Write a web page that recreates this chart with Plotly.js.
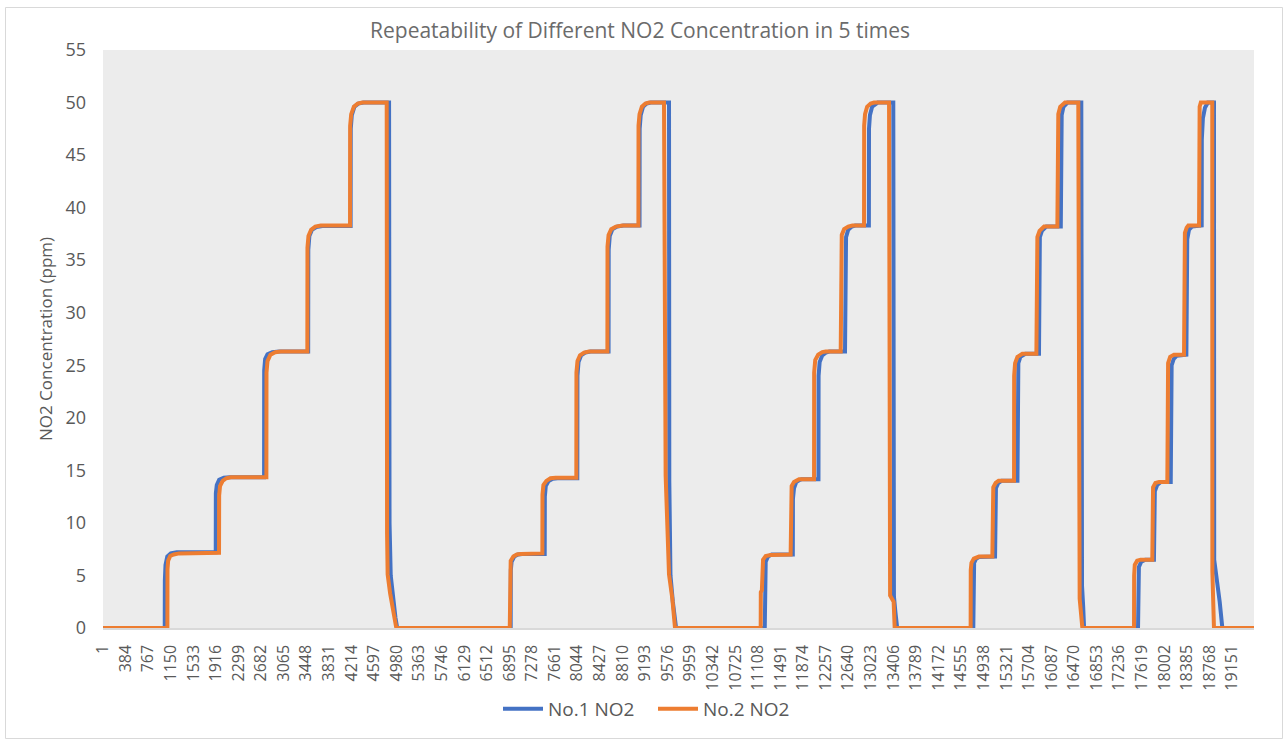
<!DOCTYPE html>
<html>
<head>
<meta charset="utf-8">
<script src="https://cdn.plot.ly/plotly-3.0.1.min.js"></script>
<style>
  html, body { margin: 0; padding: 0; background: #ffffff; }
  #chart { width: 1288px; height: 741px; }
</style>
</head>
<body>
<div id="chart"></div>
<script>
// Sample index values (x) and NO2 concentrations in ppm (y) at the breakpoints of each curve.
const no1X = [
  1, 1047, 1049, 1060, 1090, 1150, 1250, 1912,
  1914, 1930, 1970, 2050, 2150, 2732,
  2734, 2750, 2790, 2870, 2990, 3480,
  3482, 3500, 3545, 3620, 3720, 4200,
  4202, 4220, 4265, 4330, 4420, 4852,
  4856, 4860, 4880, 4920, 4960, 4990,
  6915, 6917, 6930, 6975, 7040, 7110, 7492,
  7494, 7510, 7560, 7630, 7710, 8045,
  8047, 8065, 8110, 8180, 8270, 8575,
  8577, 8595, 8640, 8720, 8830, 9100,
  9102, 9120, 9160, 9220, 9290, 9600,
  9605, 9625, 9665, 9700, 9720,
  11224, 11226, 11240, 11280, 11340, 11700,
  11702, 11720, 11760, 11820, 11850, 12135,
  12137, 12155, 12200, 12260, 12320, 12585,
  12587, 12603, 12640, 12700, 12760, 12990,
  12992, 13008, 13045, 13100, 13140, 13404,
  13408, 13415, 13440, 13470,
  14761, 14763, 14775, 14810, 14860, 15130,
  15132, 15145, 15185, 15240, 15510,
  15512, 15525, 15560, 15610, 15645, 15875,
  15877, 15890, 15925, 15975, 16000, 16245,
  16247, 16260, 16290, 16330, 16360, 16593,
  16597, 16605, 16625, 16640,
  17555, 17557, 17570, 17610, 17680, 17825,
  17827, 17840, 17880, 17940, 18110,
  18112, 18125, 18160, 18210, 18375,
  18377, 18390, 18420, 18470, 18635,
  18637, 18655, 18690, 18740, 18843,
  18847, 18900, 18940, 18985, 19522
];
const no1Y = [
  0, 0, 4.5, 6.0, 6.8, 7.1, 7.2, 7.2,
  12.8, 13.6, 14.1, 14.3, 14.35, 14.35,
  24.5, 25.6, 26.05, 26.25, 26.3, 26.3,
  36.0, 37.3, 37.9, 38.15, 38.25, 38.25,
  47.5, 48.8, 49.6, 49.9, 50, 50,
  30, 10, 5, 2.5, 1.0, 0,
  0, 5.5, 6.3, 6.8, 7.0, 7.05, 7.05,
  12.5, 13.5, 14.0, 14.2, 14.25, 14.25,
  24.0, 25.3, 25.95, 26.2, 26.3, 26.3,
  36.0, 37.3, 37.95, 38.2, 38.3, 38.3,
  47.5, 48.8, 49.6, 49.9, 50, 50,
  14, 5, 2.5, 1.0, 0,
  0, 5.5, 6.3, 6.8, 7.0, 7.0,
  12.3, 13.3, 13.9, 14.1, 14.15, 14.15,
  24.0, 25.3, 25.95, 26.2, 26.3, 26.3,
  36.0, 37.2, 37.9, 38.2, 38.3, 38.3,
  47.5, 48.8, 49.6, 49.9, 50, 50,
  12, 3, 1.5, 0,
  0, 5.5, 6.2, 6.6, 6.75, 6.8,
  12.3, 13.3, 13.8, 14.0, 14.0,
  24.0, 25.2, 25.8, 26.05, 26.1, 26.1,
  36.0, 37.2, 37.8, 38.1, 38.2, 38.2,
  47.5, 48.8, 49.6, 49.9, 50, 50,
  10, 4, 2.0, 0,
  0, 4.5, 5.8, 6.3, 6.5, 6.5,
  12.0, 13.0, 13.6, 13.9, 13.9,
  23.5, 25.0, 25.6, 25.9, 26.0,
  35.5, 37.0, 37.9, 38.2, 38.3,
  46.5, 48.5, 49.5, 50, 50,
  6.5, 4.5, 2.5, 0, 0
];
const no2X = [
  1, 1092, 1094, 1105, 1140, 1200, 1290, 1968,
  1970, 1985, 2030, 2090, 2167, 2771,
  2773, 2790, 2840, 2920, 3015, 3466,
  3468, 3485, 3530, 3600, 3693, 4190,
  4192, 4210, 4255, 4320, 4399, 4812,
  4818, 4828, 4870, 4905, 4935, 4975,
  6899, 6901, 6915, 6960, 7020, 7085, 7452,
  7454, 7470, 7520, 7590, 7678, 8028,
  8030, 8048, 8090, 8160, 8244, 8555,
  8557, 8575, 8620, 8700, 8809, 9081,
  9083, 9100, 9140, 9200, 9261, 9515,
  9543, 9600, 9656, 9702,
  11155, 11157, 11175, 11178, 11195, 11240, 11323, 11663,
  11665, 11680, 11720, 11770, 11805, 12060,
  12062, 12080, 12130, 12200, 12258, 12512,
  12514, 12530, 12570, 12640, 12710, 12908,
  12910, 12925, 12960, 13020, 13078, 13332,
  13350, 13410, 13428,
  14716, 14718, 14730, 14770, 14820, 14858, 15084,
  15086, 15100, 15140, 15190, 15226, 15452,
  15454, 15470, 15510, 15560, 15593, 15831,
  15833, 15848, 15885, 15930, 15961, 16187,
  16189, 16203, 16235, 16280, 16316, 16542,
  16565, 16611,
  17487, 17489, 17500, 17540, 17600, 17797,
  17799, 17810, 17850, 17911, 18052,
  18054, 18065, 18100, 18165, 18335,
  18337, 18350, 18380, 18408, 18590,
  18592, 18600, 18620, 18814,
  18816, 18843, 19522
];
const no2Y = [
  0, 0, 5.6, 6.4, 6.85, 7.0, 7.1, 7.15,
  12.6, 13.5, 14.0, 14.25, 14.35, 14.35,
  24.3, 25.4, 26.0, 26.25, 26.3, 26.3,
  36.2, 37.3, 37.9, 38.2, 38.3, 38.3,
  47.8, 48.9, 49.6, 49.9, 50, 50,
  9.0, 5.1, 3.3, 2.3, 1.6, 0,
  0, 5.8, 6.4, 6.8, 7.0, 7.05, 7.1,
  12.7, 13.6, 14.0, 14.25, 14.3, 14.3,
  24.3, 25.4, 25.95, 26.2, 26.3, 26.3,
  36.3, 37.4, 37.95, 38.2, 38.3, 38.3,
  47.8, 48.9, 49.6, 49.9, 50, 50,
  14.5, 5.1, 2.8, 0,
  0, 3.4, 3.6, 5.8, 6.5, 6.85, 6.95, 7.0,
  12.6, 13.5, 13.9, 14.1, 14.15, 14.15,
  24.3, 25.5, 26.0, 26.25, 26.3, 26.3,
  36.3, 37.4, 37.95, 38.2, 38.3, 38.3,
  47.8, 48.9, 49.6, 49.9, 50, 50,
  3.1, 2.5, 0,
  0, 5.5, 6.2, 6.6, 6.75, 6.8, 6.8,
  12.5, 13.4, 13.8, 14.0, 14.0, 14.0,
  24.0, 25.2, 25.8, 26.05, 26.1, 26.1,
  36.0, 37.2, 37.8, 38.1, 38.2, 38.2,
  47.8, 48.9, 49.6, 49.9, 50, 50,
  2.8, 0,
  0, 5.0, 6.0, 6.4, 6.5, 6.5,
  12.5, 13.4, 13.8, 13.9, 13.9,
  24.0, 25.2, 25.8, 26.0, 26.0,
  36.5, 37.6, 38.1, 38.3, 38.3,
  48.5, 49.6, 50, 50,
  5.4, 0, 0
];
// Category tick labels shown on the x axis
const xTickLabels = [
  1, 384, 767, 1150, 1533, 1916, 2299, 2682, 3065, 3448, 3831, 4214, 4597, 4980,
  5363, 5746, 6129, 6512, 6895, 7278, 7661, 8044, 8427, 8810, 9193, 9576, 9959,
  10342, 10725, 11108, 11491, 11874, 12257, 12640, 13023, 13406, 13789, 14172,
  14555, 14938, 15321, 15704, 16087, 16470, 16853, 17236, 17619, 18002, 18385,
  18768, 19151
];
const yTicks = [0, 5, 10, 15, 20, 25, 30, 35, 40, 45, 50, 55];
const seriesNames = ["No.1 NO2", "No.2 NO2"];
const titleText = "Repeatability of Different NO2 Concentration in 5 times";
const yTitleText = "NO2 Concentration (ppm)";

const FONT = '"Open Sans", "Liberation Sans", sans-serif';
const GREY = '#595959';

const traces = [
  { x: no1X, y: no1Y, name: seriesNames[0], type: 'scatter', mode: 'lines',
    line: { color: '#4472C4', width: 4 } },
  { x: no2X, y: no2Y, name: seriesNames[1], type: 'scatter', mode: 'lines',
    line: { color: '#ED7D31', width: 4 } }
];

const L = 103, R = 1254, T = 50, B = 628, W = 1288, H = 741;
const pw = R - L, ph = B - T;

const layout = {
  width: W, height: H,
  margin: { l: L, r: W - R, t: T, b: H - B, pad: 0 },
  paper_bgcolor: '#ffffff',
  plot_bgcolor: '#ececec',
  font: { family: FONT, color: GREY },
  showlegend: true,
  title: {
    text: titleText,
    font: { family: FONT, size: 21, color: '#6b6b6b' },
    x: 640 / W, xref: 'container', xanchor: 'center',
    y: 1 - 31 / H, yref: 'container', yanchor: 'middle'
  },
  xaxis: {
    type: 'linear',
    range: [0, 19522],
    tickmode: 'array',
    tickvals: xTickLabels,
    ticktext: xTickLabels.map(String),
    tickangle: -90,
    tickfont: { family: FONT, size: 16, color: GREY },
    ticks: '',
    ticklabelstandoff: 9,
    showgrid: false,
    zeroline: false,
    showline: true,
    linecolor: '#d9d9d9',
    linewidth: 1.5,
    automargin: false
  },
  yaxis: {
    range: [0, 55],
    tickmode: 'array',
    tickvals: yTicks,
    tickfont: { family: FONT, size: 18, color: GREY },
    ticks: '',
    ticklabelstandoff: 16,
    showgrid: false,
    zeroline: false,
    showline: false,
    automargin: false,
    title: { text: yTitleText, font: { family: FONT, size: 17, color: GREY }, standoff: 8 }
  },
  legend: {
    orientation: 'h',
    x: 653 / W, xref: 'container', xanchor: 'center',
    y: 1 - 709 / H, yref: 'container', yanchor: 'middle',
    font: { family: FONT, size: 19, color: GREY },
    bgcolor: 'rgba(0,0,0,0)',
    traceorder: 'normal',
    itemwidth: 40,
    entrywidth: 100,
    entrywidthmode: 'pixels'
  },
  shapes: [{
    type: 'rect', xref: 'paper', yref: 'paper', layer: 'above',
    x0: (5.5 - L) / pw, x1: (1282.5 - L) / pw,
    y0: (B - 738.5) / ph, y1: (B - 7.5) / ph,
    line: { color: '#d9d9d9', width: 1 }, fillcolor: 'rgba(0,0,0,0)'
  }]
};

Plotly.newPlot('chart', traces, layout, { staticPlot: true, displayModeBar: false });
</script>
</body>
</html>
